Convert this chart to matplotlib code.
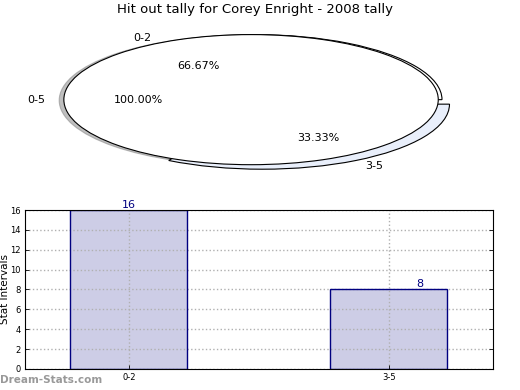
import matplotlib
matplotlib.use("Agg")
from matplotlib import pyplot as plt

# pie data
slice_labels = ["0-2", "3-5"]
slice_pcts = [66.67, 33.33]
total_label = "0-5"
total_pct = [100.0]

# bar data
intervals = ["0-2", "3-5"]
counts = [16, 8]

fig = plt.figure(figsize=(5.2, 3.9), dpi=100)

# Pie chart (elliptical, old style)
ax1 = fig.add_axes([0.04, 0.536, 0.9, 0.417])
ax1.pie(slice_pcts, labels=slice_labels, colors=["white", "#e9effb"],
        explode=[0, 0.08], autopct="%.2f%%",
        wedgeprops=dict(edgecolor="black", linewidth=0.8),
        textprops=dict(fontsize=8))
ax1.pie(total_pct, labels=[total_label], colors=["white"], explode=[0.02],
        autopct="%.2f%%", shadow={"ox": -0.018, "oy": -0.008, "shade": 0.5},
        wedgeprops=dict(edgecolor="black", linewidth=0.8),
        textprops=dict(fontsize=8))
ax1.set_aspect("auto")
ax1.set_xlim(-1.25, 1.25)
ax1.set_ylim(-1.25, 1.25)
ax1.set_title("Hit out tally for Corey Enright - 2008 tally", fontsize=9.5, pad=4)

# Bar chart
ax2 = fig.add_axes([0.048, 0.054, 0.9, 0.4075])
xpos = list(range(len(intervals)))
ax2.bar(xpos, counts, width=0.45, color="#cdcde6", linewidth=0, zorder=1)
# edges on top of the grid
ax2.bar(xpos, counts, width=0.45, fill=False, edgecolor="navy", linewidth=1,
        zorder=3)
ax2.text(xpos[0], counts[0], str(counts[0]), ha="center", va="bottom",
         color="navy", fontsize=8, zorder=4)
ax2.text(xpos[1] + 0.12, counts[1], str(counts[1]), ha="center", va="bottom",
         color="navy", fontsize=8, zorder=4)
ax2.set_xlim(-0.4, 1.4)
ax2.set_ylim(0, 16)
ax2.set_yticks(range(0, 17, 2))
ax2.set_xticks(xpos)
ax2.set_xticklabels(intervals)
ax2.tick_params(labelsize=6, direction="in", length=3, right=True, width=0.6,
                pad=3)
ax2.grid(True, linestyle=":", color="#b0b0b0", linewidth=1, zorder=2)
ax2.set_axisbelow(False)
for sp in ax2.spines.values():
    sp.set_zorder(5)
ax2.set_ylabel("Stat Intervals", fontsize=7.5, labelpad=0)
ax2.set_xlabel("Frequency", fontsize=8, labelpad=6)

fig.text(0.0, 0.025, "Dream-Stats.com", color="#999999", fontsize=7.5,
         fontweight="bold", va="center", ha="left")

fig.savefig("out.png", dpi=100)
